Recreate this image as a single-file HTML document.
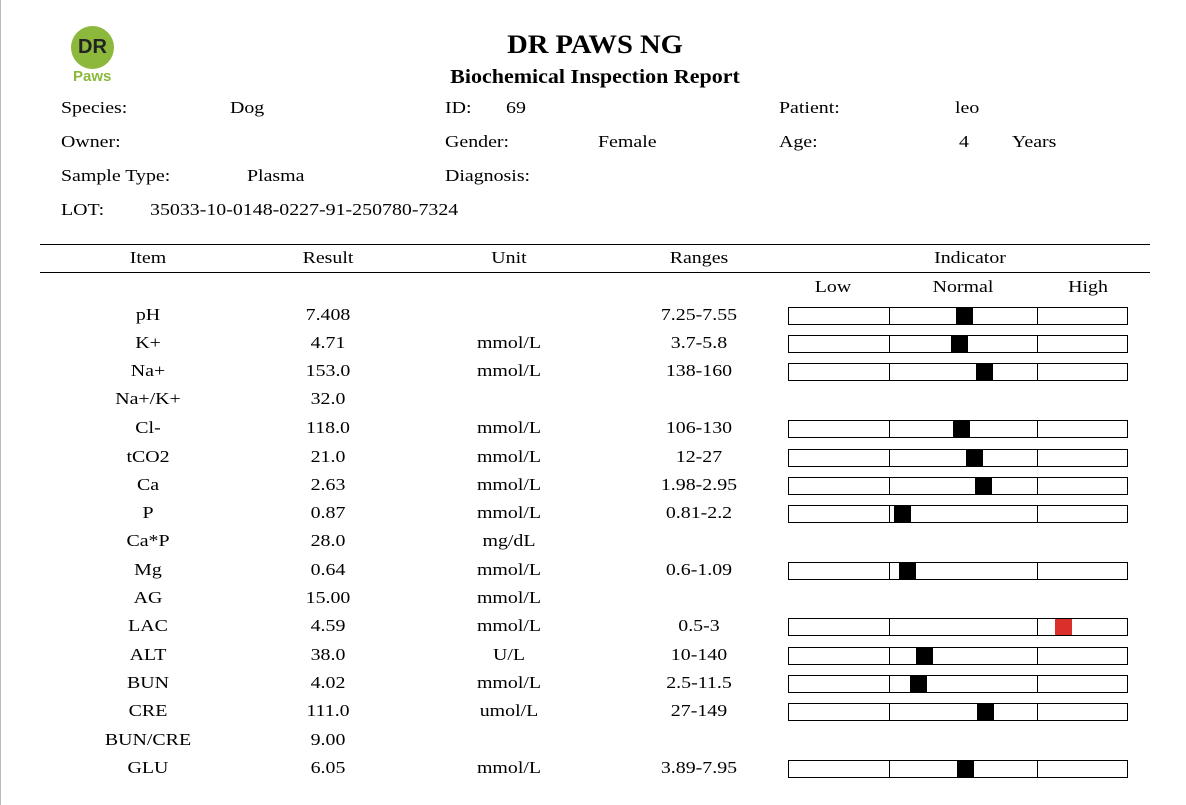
<!DOCTYPE html>
<html><head><meta charset="utf-8"><style>
body{margin:0;width:1186px;height:805px;background:#fff;position:relative;overflow:hidden;font-family:"Liberation Serif",serif;font-size:17px;color:#000}
.t{position:absolute;line-height:20px;white-space:nowrap;transform:scaleX(1.17);transform-origin:left center}
.c{position:absolute;line-height:20px;text-align:center;white-space:nowrap;transform:scaleX(1.17);transform-origin:center center}
.c.h{transform:scaleX(1.1)}
.bar{position:absolute;left:788px;width:338px;height:16px;border:1px solid #000;box-sizing:content-box}
.bar i{position:absolute;top:0;height:16px;border-left:1px solid #000}
.m{position:absolute;top:0;width:17px;height:16px;background:#000}
.hl{position:absolute;left:40px;width:1110px;height:1px;background:#000}
</style></head><body>
<div style="position:absolute;left:0;top:0;width:1px;height:805px;background:#bbb"></div>
<div style="position:absolute;left:71px;top:26px;width:43px;height:43px;border-radius:50%;background:#8cb83c"></div>
<div style="position:absolute;left:78px;top:37px;line-height:20px;font-family:'Liberation Sans',sans-serif;font-weight:bold;font-size:20px;color:#222">DR</div>
<div style="position:absolute;left:73px;top:67px;line-height:20px;font-family:'Liberation Sans',sans-serif;font-weight:bold;font-size:15px;color:#8cb83c">Paws</div>
<div class="c h" style="left:395px;width:400px;top:30px;font-size:26px;line-height:30px;font-weight:bold">DR PAWS NG</div>
<div class="c h" style="left:395px;width:400px;top:67px;font-size:20px;font-weight:bold">Biochemical Inspection Report</div>

<div class="t" style="left:61px;top:98px">Species:</div>
<div class="t" style="left:230px;top:98px">Dog</div>
<div class="t" style="left:445px;top:98px">ID:</div>
<div class="t" style="left:506px;top:98px">69</div>
<div class="t" style="left:779px;top:98px">Patient:</div>
<div class="t" style="left:955px;top:98px">leo</div>
<div class="t" style="left:61px;top:132px">Owner:</div>
<div class="t" style="left:445px;top:132px">Gender:</div>
<div class="t" style="left:598px;top:132px">Female</div>
<div class="t" style="left:779px;top:132px">Age:</div>
<div class="t" style="left:959px;top:132px">4</div>
<div class="t" style="left:1012px;top:132px">Years</div>
<div class="t" style="left:61px;top:166px">Sample Type:</div>
<div class="t" style="left:247px;top:166px">Plasma</div>
<div class="t" style="left:445px;top:166px">Diagnosis:</div>
<div class="t" style="left:61px;top:200px">LOT:</div>
<div class="t" style="left:150px;top:200px">35033-10-0148-0227-91-250780-7324</div>

<div class="hl" style="top:244px"></div>
<div class="hl" style="top:272px"></div>
<div class="c" style="left:88px;width:120px;top:248px">Item</div>
<div class="c" style="left:268px;width:120px;top:248px">Result</div>
<div class="c" style="left:449px;width:120px;top:248px">Unit</div>
<div class="c" style="left:639px;width:120px;top:248px">Ranges</div>
<div class="c" style="left:870px;width:200px;top:248px">Indicator</div>
<div class="c" style="left:773px;width:120px;top:277px">Low</div>
<div class="c" style="left:903px;width:120px;top:277px">Normal</div>
<div class="c" style="left:1028px;width:120px;top:277px">High</div>

<div class="c" style="left:88px;width:120px;top:305px">pH</div><div class="c" style="left:268px;width:120px;top:305px">7.408</div><div class="c" style="left:639px;width:120px;top:305px">7.25-7.55</div>
<div class="bar" style="top:307px"><i style="left:100px"></i><i style="left:248px"></i><div class="m" style="left:167px"></div></div>

<div class="c" style="left:88px;width:120px;top:333px">K+</div><div class="c" style="left:268px;width:120px;top:333px">4.71</div><div class="c" style="left:449px;width:120px;top:333px">mmol/L</div><div class="c" style="left:639px;width:120px;top:333px">3.7-5.8</div>
<div class="bar" style="top:335px"><i style="left:100px"></i><i style="left:248px"></i><div class="m" style="left:162px"></div></div>

<div class="c" style="left:88px;width:120px;top:361px">Na+</div><div class="c" style="left:268px;width:120px;top:361px">153.0</div><div class="c" style="left:449px;width:120px;top:361px">mmol/L</div><div class="c" style="left:639px;width:120px;top:361px">138-160</div>
<div class="bar" style="top:363px"><i style="left:100px"></i><i style="left:248px"></i><div class="m" style="left:187px"></div></div>

<div class="c" style="left:88px;width:120px;top:389px">Na+/K+</div><div class="c" style="left:268px;width:120px;top:389px">32.0</div>

<div class="c" style="left:88px;width:120px;top:418px">Cl-</div><div class="c" style="left:268px;width:120px;top:418px">118.0</div><div class="c" style="left:449px;width:120px;top:418px">mmol/L</div><div class="c" style="left:639px;width:120px;top:418px">106-130</div>
<div class="bar" style="top:420px"><i style="left:100px"></i><i style="left:248px"></i><div class="m" style="left:164px"></div></div>

<div class="c" style="left:88px;width:120px;top:447px">tCO2</div><div class="c" style="left:268px;width:120px;top:447px">21.0</div><div class="c" style="left:449px;width:120px;top:447px">mmol/L</div><div class="c" style="left:639px;width:120px;top:447px">12-27</div>
<div class="bar" style="top:449px"><i style="left:100px"></i><i style="left:248px"></i><div class="m" style="left:177px"></div></div>

<div class="c" style="left:88px;width:120px;top:475px">Ca</div><div class="c" style="left:268px;width:120px;top:475px">2.63</div><div class="c" style="left:449px;width:120px;top:475px">mmol/L</div><div class="c" style="left:639px;width:120px;top:475px">1.98-2.95</div>
<div class="bar" style="top:477px"><i style="left:100px"></i><i style="left:248px"></i><div class="m" style="left:186px"></div></div>

<div class="c" style="left:88px;width:120px;top:503px">P</div><div class="c" style="left:268px;width:120px;top:503px">0.87</div><div class="c" style="left:449px;width:120px;top:503px">mmol/L</div><div class="c" style="left:639px;width:120px;top:503px">0.81-2.2</div>
<div class="bar" style="top:505px"><i style="left:100px"></i><i style="left:248px"></i><div class="m" style="left:105px"></div></div>

<div class="c" style="left:88px;width:120px;top:531px">Ca*P</div><div class="c" style="left:268px;width:120px;top:531px">28.0</div><div class="c" style="left:449px;width:120px;top:531px">mg/dL</div>

<div class="c" style="left:88px;width:120px;top:560px">Mg</div><div class="c" style="left:268px;width:120px;top:560px">0.64</div><div class="c" style="left:449px;width:120px;top:560px">mmol/L</div><div class="c" style="left:639px;width:120px;top:560px">0.6-1.09</div>
<div class="bar" style="top:562px"><i style="left:100px"></i><i style="left:248px"></i><div class="m" style="left:110px"></div></div>

<div class="c" style="left:88px;width:120px;top:588px">AG</div><div class="c" style="left:268px;width:120px;top:588px">15.00</div><div class="c" style="left:449px;width:120px;top:588px">mmol/L</div>

<div class="c" style="left:88px;width:120px;top:616px">LAC</div><div class="c" style="left:268px;width:120px;top:616px">4.59</div><div class="c" style="left:449px;width:120px;top:616px">mmol/L</div><div class="c" style="left:639px;width:120px;top:616px">0.5-3</div>
<div class="bar" style="top:618px"><i style="left:100px"></i><i style="left:248px"></i><div class="m" style="left:266px;background:#d9302c"></div></div>

<div class="c" style="left:88px;width:120px;top:645px">ALT</div><div class="c" style="left:268px;width:120px;top:645px">38.0</div><div class="c" style="left:449px;width:120px;top:645px">U/L</div><div class="c" style="left:639px;width:120px;top:645px">10-140</div>
<div class="bar" style="top:647px"><i style="left:100px"></i><i style="left:248px"></i><div class="m" style="left:127px"></div></div>

<div class="c" style="left:88px;width:120px;top:673px">BUN</div><div class="c" style="left:268px;width:120px;top:673px">4.02</div><div class="c" style="left:449px;width:120px;top:673px">mmol/L</div><div class="c" style="left:639px;width:120px;top:673px">2.5-11.5</div>
<div class="bar" style="top:675px"><i style="left:100px"></i><i style="left:248px"></i><div class="m" style="left:121px"></div></div>

<div class="c" style="left:88px;width:120px;top:701px">CRE</div><div class="c" style="left:268px;width:120px;top:701px">111.0</div><div class="c" style="left:449px;width:120px;top:701px">umol/L</div><div class="c" style="left:639px;width:120px;top:701px">27-149</div>
<div class="bar" style="top:703px"><i style="left:100px"></i><i style="left:248px"></i><div class="m" style="left:188px"></div></div>

<div class="c" style="left:88px;width:120px;top:730px">BUN/CRE</div><div class="c" style="left:268px;width:120px;top:730px">9.00</div>

<div class="c" style="left:88px;width:120px;top:758px">GLU</div><div class="c" style="left:268px;width:120px;top:758px">6.05</div><div class="c" style="left:449px;width:120px;top:758px">mmol/L</div><div class="c" style="left:639px;width:120px;top:758px">3.89-7.95</div>
<div class="bar" style="top:760px"><i style="left:100px"></i><i style="left:248px"></i><div class="m" style="left:168px"></div></div>
</body></html>
